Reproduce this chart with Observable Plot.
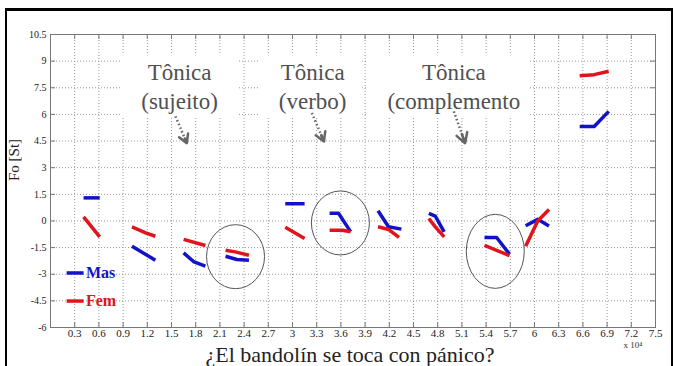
<!DOCTYPE html>
<html><head><meta charset="utf-8">
<script src="https://cdn.jsdelivr.net/npm/d3@7"></script>
<script src="https://cdn.jsdelivr.net/npm/@observablehq/plot@0.6"></script>
<style>
body{margin:0;background:#fff;}
#wrap{position:relative;width:674px;height:366px;overflow:hidden;background:#fff;}
#wrap svg{position:absolute;left:0;top:0;}
#frame{position:absolute;left:5px;top:8px;width:668px;height:380px;border-top:3px solid #000;border-left:2px solid #000;border-right:2px solid #000;box-sizing:border-box;pointer-events:none;}
</style></head><body><div id="wrap"><div id="frame"></div></div>
<script>
const xTicks = [0.3,0.6,0.9,1.2,1.5,1.8,2.1,2.4,2.7,3,3.3,3.6,3.9,4.2,4.5,4.8,5.1,5.4,5.7,6,6.3,6.6,6.9,7.2,7.5];
const yTicks = [-6,-4.5,-3,-1.5,0,1.5,3,4.5,6,7.5,9,10.5];
const seriesNames = ["Mas","Fem"];
const seriesColors = ["#1212c8","#e0141c"];
const masSegments = [
  [[0.41,1.3],[0.61,1.3]],
  [[1.01,-1.42],[1.30,-2.21]],
  [[1.65,-1.8],[1.78,-2.31],[1.92,-2.55]],
  [[2.17,-1.99],[2.31,-2.17],[2.46,-2.21]],
  [[2.91,0.97],[3.15,0.97]],
  [[3.46,0.43],[3.57,0.43],[3.72,-0.6]],
  [[4.06,0.57],[4.19,-0.33],[4.35,-0.46]],
  [[4.69,0.43],[4.77,0.27],[4.88,-0.61]],
  [[5.38,-0.93],[5.53,-0.93],[5.69,-1.87]],
  [[5.89,-0.27],[6.04,0.09],[6.18,-0.29]],
  [[6.56,5.32],[6.74,5.32],[6.92,6.17]]
];
const femSegments = [
  [[0.41,0.23],[0.61,-0.9]],
  [[1.01,-0.33],[1.18,-0.67],[1.30,-0.86]],
  [[1.65,-1.04],[1.92,-1.38]],
  [[2.17,-1.65],[2.29,-1.74],[2.46,-1.93]],
  [[2.91,-0.36],[3.15,-0.99]],
  [[3.46,-0.52],[3.62,-0.52],[3.72,-0.61]],
  [[4.06,-0.33],[4.19,-0.48],[4.32,-0.93]],
  [[4.69,0.14],[4.77,-0.33],[4.88,-0.9]],
  [[5.38,-1.38],[5.69,-1.95]],
  [[5.89,-1.42],[6.04,0.0],[6.18,0.65]],
  [[6.56,8.18],[6.74,8.24],[6.92,8.43]]
];
const highlightX = [2.30, 3.60, 5.52];
const highlightY = [-2.04, -0.14, -1.74];
const noteX = [1.60, 3.25, 5.00];
const noteLine1 = ["Tônica","Tônica","Tônica"];
const noteLine2 = ["(sujeito)","(verbo)","(complemento"];
const noteBoxX1 = [0.88, 2.60, 3.94];
const noteBoxX2 = [2.32, 3.87, 5.95];
const arrowFrom = [[1.55,5.89],[3.24,6.08],[5.00,6.17]];
const arrowTo = [[1.69,4.38],[3.39,4.47],[5.14,4.38]];
const legendY = [-2.93, -4.51];
const xLabel = "¿El bandolín se toca con pánico?";
const yLabel = "Fo [St]";

const toRows = (segs, name) => segs.flatMap((s, i) => s.map(([x, y]) => ({series: name, seg: name + i, x, y})));
const masRows = toRows(masSegments, "Mas");
const femRows = toRows(femSegments, "Fem");
const notes = noteX.map((x, i) => ({x, l1: noteLine1[i], l2: noteLine2[i], bx1: noteBoxX1[i], bx2: noteBoxX2[i]}));
const arrows = arrowFrom.map((f, i) => ({x1: f[0], y1: f[1], x2: arrowTo[i][0], y2: arrowTo[i][1]}));
const legend = seriesNames.map((n, i) => ({name: n, color: seriesColors[i], y: legendY[i]}));

const serif = "'Liberation Serif', 'Times New Roman', serif";
const W = 674, H = 366, mL = 50, mR = 19, mT = 34, mB = 39;
const fw = W - mL - mR, fh = H - mT - mB;

const ellipses = (index, scales) => {
  const g = d3.create("svg:g");
  const rx = [29, 29, 29], ry = [32, 32, 37];
  highlightX.forEach((x, i) => {
    g.append("ellipse").attr("cx", scales.x(x)).attr("cy", scales.y(highlightY[i]))
      .attr("rx", rx[i]).attr("ry", ry[i]).attr("fill", "none").attr("stroke", "#555").attr("stroke-width", 1);
  });
  return g.node();
};

const chart = Plot.plot({
  width: W, height: H,
  marginLeft: mL, marginRight: mR, marginTop: mT, marginBottom: mB,
  style: {fontFamily: serif, fontSize: "11px", background: "transparent", color: "#222"},
  x: {domain: [0, 7.5]},
  y: {domain: [-6, 10.5]},
  marks: [
    Plot.gridX(xTicks, {stroke: "#9a9a9a", strokeOpacity: 1, strokeDasharray: "1,2"}),
    Plot.gridY(yTicks, {stroke: "#9a9a9a", strokeOpacity: 1, strokeDasharray: "1,2"}),
    Plot.rect(notes, {x1: "bx1", x2: "bx2", y1: 5.8, y2: 9.3, fill: "#fff"}),
    Plot.ruleX(xTicks, {x: d => d, insetBottom: fh - 5, stroke: "#777"}),
    Plot.ruleX(xTicks, {x: d => d, insetTop: fh - 5, stroke: "#777"}),
    Plot.ruleY(yTicks, {y: d => d, insetRight: fw - 5, stroke: "#777"}),
    Plot.ruleY(yTicks, {y: d => d, insetLeft: fw - 5, stroke: "#777"}),
    Plot.frame({stroke: "#777"}),
    Plot.axisX({ticks: xTicks, tickSize: 0, tickPadding: 2, label: null, tickFormat: d => String(d), fontSize: 11, fill: "#222"}),
    Plot.axisY({ticks: yTicks, tickSize: 0, tickPadding: 4, label: null, tickFormat: d => String(d), fontSize: 10, fill: "#222"}),
    Plot.line(masRows, {x: "x", y: "y", z: "seg", stroke: seriesColors[0], strokeWidth: 3.5, strokeLinecap: "butt"}),
    Plot.line(femRows, {x: "x", y: "y", z: "seg", stroke: seriesColors[1], strokeWidth: 3.5, strokeLinecap: "butt"}),
    ellipses,
    Plot.text(notes, {x: "x", y: 8.35, text: "l1", fontSize: 23, fill: "#505050", fontFamily: serif}),
    Plot.text(notes, {x: "x", y: 6.71, text: "l2", fontSize: 23, fill: "#505050", fontFamily: serif}),
    Plot.link(arrows, {x1: "x1", y1: "y1", x2: "x2", y2: "y2", stroke: "#666", strokeWidth: 2.5, strokeDasharray: "1.5,2.5"}),
    Plot.arrow(arrows, {x1: "x1", y1: "y1", x2: "x2", y2: "y2", stroke: "#666", strokeWidth: 2.5, headLength: 11, insetStart: 24}),
    Plot.link(legend, {x1: 0.2, x2: 0.41, y1: "y", y2: "y", stroke: "color", strokeWidth: 3.5}),
    Plot.text(legend, {x: 0.44, y: "y", text: "name", fill: "color", textAnchor: "start", fontSize: 16, fontWeight: "bold", fontFamily: serif}),
    Plot.text([xLabel], {frameAnchor: "bottom", lineAnchor: "middle", dy: 27, dx: -3, fontSize: 22, fill: "#222", fontFamily: serif}),
    Plot.text([yLabel], {frameAnchor: "left", rotate: -90, dx: -36, fontSize: 15, fill: "#222", fontFamily: serif}),
    Plot.text(["x 10⁴"], {frameAnchor: "bottom-right", dy: 20, dx: -13, fontSize: 9, fill: "#333", fontFamily: serif})
  ]
});
document.getElementById("wrap").insertBefore(chart, document.getElementById("frame"));
</script>
</body></html>
